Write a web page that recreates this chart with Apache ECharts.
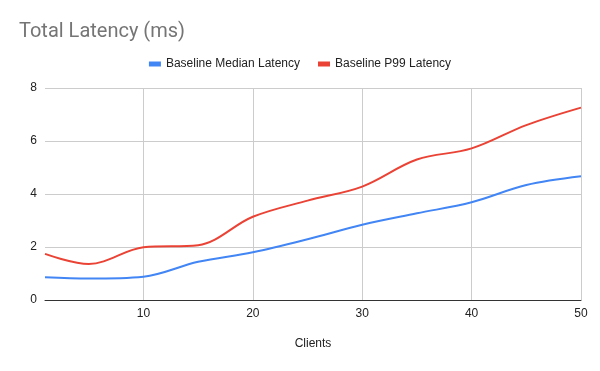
<!DOCTYPE html>
<html><head><meta charset="utf-8">
<script src="https://cdn.jsdelivr.net/npm/echarts@6/dist/echarts.min.js"></script>
<style>html,body{margin:0;padding:0;background:#fff}#c{width:600px;height:371px}</style>
</head><body><div id="c"></div>
<script>
var clients = [1, 5, 10, 15, 20, 25, 30, 35, 40, 45, 50];
var medianLatency = [0.86, 0.81, 0.88, 1.44, 1.80, 2.29, 2.84, 3.27, 3.69, 4.34, 4.67];
var p99Latency = [1.74, 1.36, 1.99, 2.07, 3.14, 3.75, 4.28, 5.30, 5.72, 6.60, 7.26];
var seriesNames = ['Baseline Median Latency', 'Baseline P99 Latency'];
var yTicks = [0, 2, 4, 6, 8];

function pairs(xs, ys) { return xs.map(function (x, i) { return [x, ys[i]]; }); }

var chart = echarts.init(document.getElementById('c'), null, {renderer: 'canvas'});
var font = 'Liberation Sans, Arial, sans-serif';
chart.setOption({
  animation: false,
  title: {
    text: 'Total Latency (ms)', left: 14, top: 17,
    textStyle: {fontSize: 20, fontWeight: 'normal', color: '#757575', fontFamily: 'Roboto, Arial, sans-serif'}
  },
  legend: {
    data: seriesNames, top: 53, left: 'center', itemWidth: 12, itemHeight: 5, itemGap: 18,
    icon: 'rect',
    textStyle: {fontSize: 12, color: '#222', fontFamily: font}
  },
  grid: {left: 45, right: 19, top: 88, bottom: 71, containLabel: false},
  xAxis: {
    type: 'value', min: 1, max: 50, splitNumber: 5,
    name: 'Clients', nameLocation: 'middle', nameGap: 38,
    nameTextStyle: {fontSize: 12, color: '#222', fontFamily: font},
    axisLine: {show: true, lineStyle: {color: '#333', width: 1}},
    axisTick: {show: false},
    axisLabel: {showMinLabel: false, color: '#222', fontSize: 12, fontFamily: font, margin: 8,
      formatter: function (v) { return v === 1 ? '' : String(v); }},
    splitLine: {show: true, lineStyle: {color: ['rgba(0,0,0,0)', '#ccc', '#ccc', '#ccc', '#ccc', '#ccc'], width: 1}}
  },
  yAxis: {
    type: 'value', min: yTicks[0], max: yTicks[yTicks.length - 1], interval: 2,
    axisLine: {show: false}, axisTick: {show: false},
    axisLabel: {color: '#222', fontSize: 12, fontFamily: font, margin: 8},
    splitLine: {lineStyle: {color: '#ccc', width: 1}}
  },
  series: [
    {name: seriesNames[0], type: 'line', smooth: 0.35, showSymbol: false, symbol: 'none',
     data: pairs(clients, medianLatency), lineStyle: {color: '#4285F4', width: 2}, itemStyle: {color: '#4285F4'}},
    {name: seriesNames[1], type: 'line', smooth: 0.35, showSymbol: false, symbol: 'none',
     data: pairs(clients, p99Latency), lineStyle: {color: '#EA4335', width: 2}, itemStyle: {color: '#EA4335'}}
  ]
});
</script></body></html>
